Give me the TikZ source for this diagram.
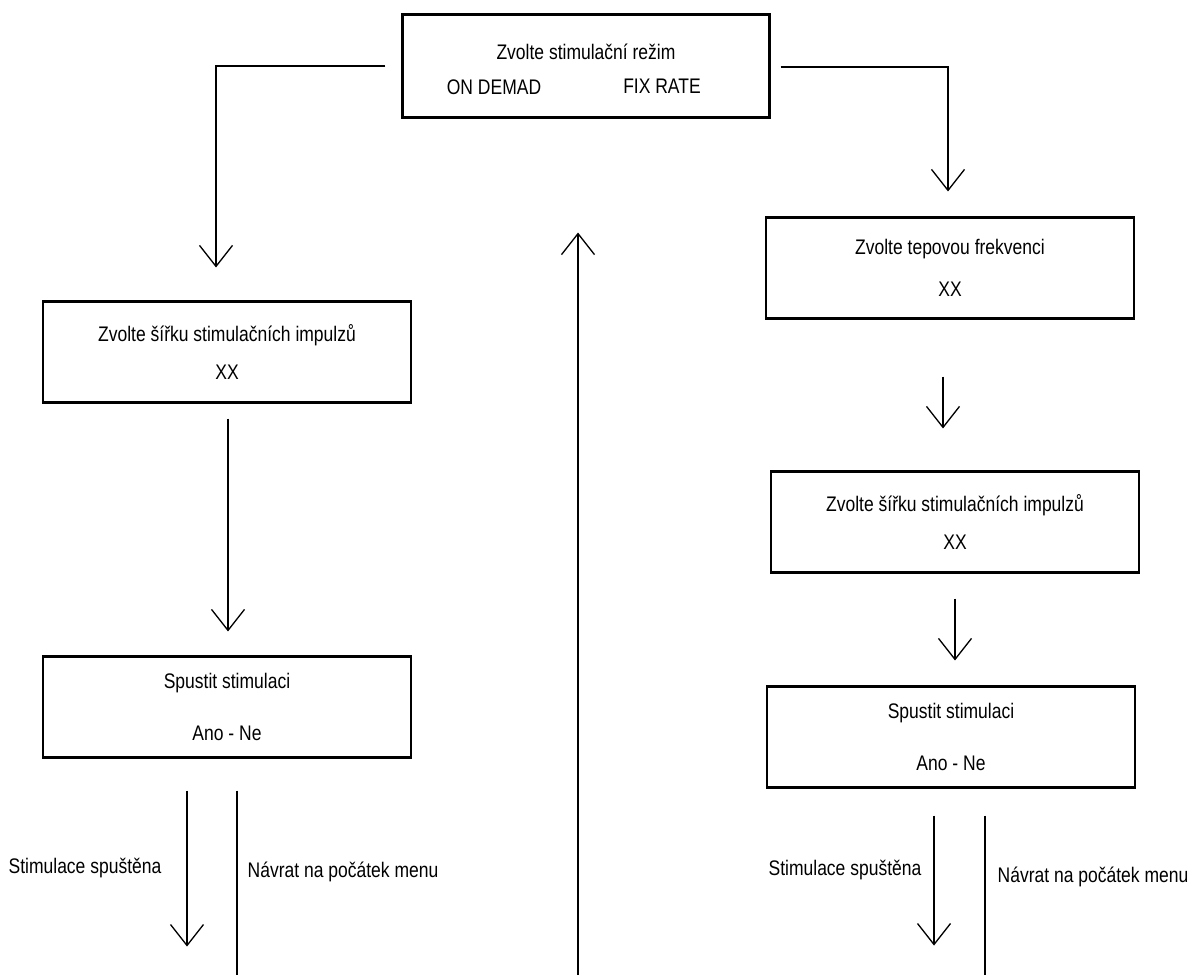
\documentclass[tikz,border=0pt]{standalone}
\usepackage{fontspec}
\setmainfont{Liberation Sans}[FakeStretch=0.83]
\usetikzlibrary{arrows.meta,calc}

\tikzset{
    box/.style={draw, line width=1.2pt, minimum width=7.36cm, minimum height=2.02cm, align=center, inner sep=0pt},
    flow/.style={line width=0.75pt, -{Straight Barb[length=4.2mm, width=6.6mm]}},
    back/.style={line width=0.75pt},
    txt/.style={inner sep=0pt}
}

\begin{document}
\begin{tikzpicture}[x=0.02cm, y=-0.02cm, font=\fontsize{12}{14}\selectfont]
                \useasboundingbox (0,0) rectangle (1190,975);
                \node[box, minimum width=7.34cm, minimum height=2.06cm] (mode) at (586,66) {};
                \node[txt] (modetitle) at (586,52) {Zvolte stimulační režim};
                \node[txt] (ondemand) at (494,87) {ON DEMAD};
                \node[txt] (fixrate) at (662,86) {FIX RATE};
                \node[box] (lwidth) at (227,352) {Zvolte šířku stimulačních impulzů\\[8pt]XX};
                \node[box] (lstart) at (227,707) {Spustit stimulaci\\[16pt]Ano - Ne};
                \node[box] (rrate) at (950,268) {Zvolte tepovou frekvenci\\[10pt]XX};
                \node[box] (rwidth) at (955,522) {Zvolte šířku stimulačních impulzů\\[8pt]XX};
                \node[box] (rstart) at (951,737) {Spustit stimulaci\\[16pt]Ano - Ne};
                \node[txt] (lrun) at (85,868) {Stimulace spuštěna};
                \node[txt] (lback) at (343,872) {Návrat na počátek menu};
                \node[txt] (rrun) at (845,870) {Stimulace spuštěna};
                \node[txt] (rback) at (1093,877) {Návrat na počátek menu};
                \coordinate (lbottom) at (237,975);
                \coordinate (rbottom) at (985,975);
                \coordinate (cbottom) at (578,975);
                \draw[flow] ($(mode.west)+(-16,0)$) -| ($(lwidth.north)+(-11,-33)$);
                \draw[flow] ($(mode.east)+(10,1)$) -| ($(rrate.north)+(-2,-25)$);
                \draw[flow] ($(lwidth.south)+(1,15)$) -- ($(lstart.north)+(1,-24)$);
                \draw[flow] ($(rrate.south)+(-7,57)$) -- ($(rwidth.north)+(-12,-42)$);
                \draw[flow] ($(rwidth.south)+(0,25)$) -- ($(rstart.north)+(4,-25)$);
                \draw[flow] ($(lstart.south)+(-40,32)$) -- ($(lstart.south)+(-40,188)$);
                \draw[back] ($(lstart.south)+(10,32)$) -- (lbottom);
                \draw[flow] ($(rstart.south)+(-17,27)$) -- ($(rstart.south)+(-17,157)$);
                \draw[back] ($(rstart.south)+(34,27)$) -- (rbottom);
                \draw[flow] (cbottom) -- ($(mode.south)+(-8,114)$);
            \end{tikzpicture}
\end{document}
